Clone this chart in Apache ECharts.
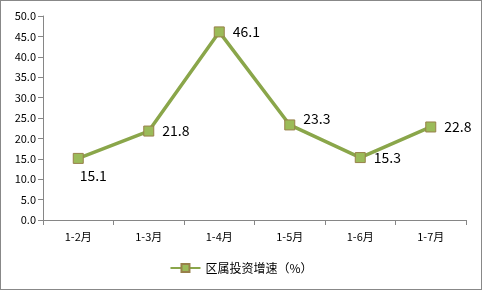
<!DOCTYPE html>
<html><head><meta charset="utf-8">
<script src="https://cdn.jsdelivr.net/npm/echarts@6/dist/echarts.min.js"></script>
<style>html,body{margin:0;padding:0;background:#fff}#c{width:482px;height:290px;box-sizing:border-box;border:1px solid #888}</style>
</head><body><div id="c"></div>
<script>
var categories = ['1-2月','1-3月','1-4月','1-5月','1-6月','1-7月'];
var values = [15.1, 21.8, 46.1, 23.3, 15.3, 22.8];
var seriesName = '区属投资增速（%）';
var labelPos = ['bottom','right','right','right','right','right'];

var chart = echarts.init(document.getElementById('c'));
var font = 'Microsoft YaHei, "Noto Sans CJK SC", sans-serif';
chart.setOption({
  animation: false,
  textStyle: {fontFamily: font},
  grid: {left: 42, right: 15, top: 15, bottom: 69},
  legend: {
    bottom: 10, left: 'center', itemWidth: 30, itemHeight: 10,
    textStyle: {fontSize: 12, color: '#000', fontFamily: font},
    data: [seriesName]
  },
  xAxis: {
    type: 'category', data: categories, boundaryGap: true,
    axisLine: {lineStyle: {color: '#868686'}},
    axisTick: {show: true, alignWithLabel: false, length: 5, lineStyle: {color: '#868686'}},
    axisLabel: {color: '#000', fontSize: 11, margin: 11}
  },
  yAxis: {
    type: 'value', min: 0, max: 50, interval: 5,
    axisLine: {show: true, lineStyle: {color: '#868686'}},
    axisTick: {show: true, length: 5, lineStyle: {color: '#868686'}},
    splitLine: {show: false},
    axisLabel: {color: '#000', fontSize: 11, margin: 7, formatter: function(v){return v.toFixed(1);}}
  },
  series: [{
    name: seriesName, type: 'line',
    data: values.map(function(v, i){ return {value: v, label: {position: labelPos[i], distance: 8, offset: labelPos[i]==='bottom'?[15,-3]:(i===3?[0,-6]:[0,0])}}; }),
    symbol: 'rect', symbolSize: 10,
    lineStyle: {color: '#8AA64A', width: 3.5},
    itemStyle: {color: '#9BBB59', borderColor: '#98804A', borderWidth: 1},
    label: {show: true, fontSize: 14, color: '#000', formatter: function(p){return p.value.toFixed(1);}}
  }]
});
</script></body></html>
